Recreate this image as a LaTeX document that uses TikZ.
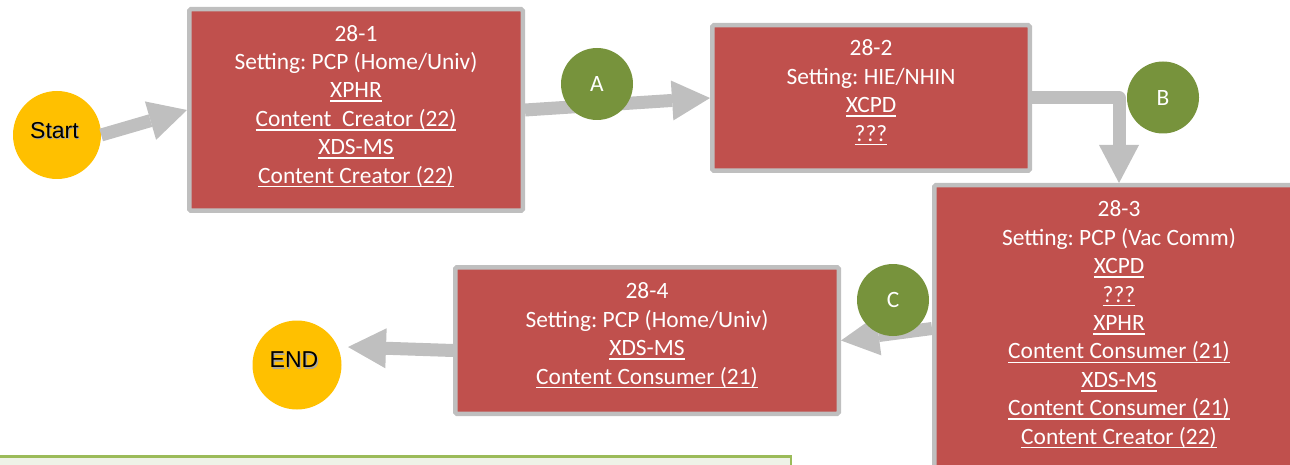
\documentclass[tikz,border=0pt]{standalone}
\usepackage{fontspec}
\setmainfont{Carlito}
\newfontfamily\arialf{Liberation Sans}
\usetikzlibrary{arrows.meta,calc}
\definecolor{boxred}{HTML}{C0504D}
\definecolor{boxgray}{HTML}{BFBFBF}
\definecolor{olivec}{HTML}{77933C}
\definecolor{goldc}{HTML}{FFC000}
\definecolor{notefill}{HTML}{EEF2E7}
\definecolor{noteline}{HTML}{9BBB59}
\newsavebox\ulbox
\newcommand\ulx[1]{\sbox\ulbox{#1}\rlap{\rule[-4.3pt]{\wd\ulbox}{1.7pt}}\usebox\ulbox}
\frenchspacing
\tikzset{
  stagebox/.style={draw=boxgray, line width=4.5pt, fill=boxred, rounded corners=1.5pt, inner sep=0pt},
  stagetext/.style={text=white, align=center, font=\frenchspacing\fontsize{23.4}{28.4}\selectfont, inner sep=0pt},
  flow/.style={draw=boxgray, line width=13pt, -{Triangle[length=38pt,width=40pt,line width=0pt]}},
  letterdot/.style={circle, fill=olivec, minimum size=72pt, inner sep=0pt, text=white, font=\fontsize{23.4}{28}\selectfont},
  termdot/.style={circle, fill=goldc, minimum size=88pt, inner sep=0pt},
  termtext/.style={font=\arialf\fontsize{23}{28}\selectfont, text=black, inner sep=0pt},
  termshadow/.style={font=\arialf\fontsize{23}{28}\selectfont, text=black!35, inner sep=0pt}
}
\begin{document}
\begin{tikzpicture}[x=1pt,y=-1pt]
\useasboundingbox (0,0) rectangle (1290,465);
% note box at bottom
\path[fill=notefill, draw=noteline, line width=2.5pt] (-5,456.5) rectangle (791,490);
% stage boxes
\node[stagebox, minimum width=333.5pt, minimum height=201.5pt] (box1) at (356,110) {};
\node[stagebox, minimum width=317.5pt, minimum height=145.5pt] (box2) at (871,98) {};
\node[stagebox, minimum width=369.5pt, minimum height=286.5pt] (box3) at (1119,328.5) {};
\node[stagebox, minimum width=383.5pt, minimum height=146.5pt] (box4) at (647,340.5) {};
% terminals
\node[termdot] (start) at (57,135) {};
\node[termdot, minimum size=89pt] (endc) at (297,365) {};
\coordinate (endtip) at ($(endc.center)+(51,-18)$);
\coordinate (box4out) at ([yshift=-10pt]box4.west);
% connectors
\draw[flow] (start.east) -- (box1.west);
\draw[flow] (box1.east) -- (box2.west);
\draw[flow, line join=round] (box2.east) -| (box3.north);
\draw[flow] (box3.west) -- (box4.east);
\draw[flow] (box4out) -- (endtip);
% letter markers
\node[letterdot] (ma) at (597,84) {A};
\node[letterdot] (mb) at (1163,97.5) {B};
\node[letterdot] (mc) at (893,300) {C};
% terminal texts
\node[termshadow] (startsh) at (55.6,131.6) {Start};
\node[termtext] (starttext) at (54.5,130.5) {Start};
\node[termshadow] (endsh) at (295.1,361.1) {END};
\node[termtext] (endtext) at (294,360) {END};
% stage texts
\node[stagetext] (t1) at (356,106.2) {28-1\\Setting: PCP (Home/Univ)\\\ulx{XPHR}\\\ulx{Content~\ Creator (22)}\\\ulx{XDS-MS}\\\ulx{Content Creator (22)}};
\node[stagetext] (t2) at (871,92.75) {28-2\\Setting: HIE/NHIN\\\ulx{XCPD}\\\ulx{???}};
\node[stagetext] (t3) at (1119,324.75) {28-3\\Setting: PCP (Vac Comm)\\\ulx{XCPD}\\\ulx{???}\\\ulx{XPHR}\\\ulx{Content Consumer (21)}\\\ulx{XDS-MS}\\\ulx{Content Consumer (21)}\\\ulx{Content Creator (22)}};
\node[stagetext] (t4) at (647,335.75) {28-4\\Setting: PCP (Home/Univ)\\\ulx{XDS-MS}\\\ulx{Content Consumer (21)}};
\end{tikzpicture}
\end{document}
